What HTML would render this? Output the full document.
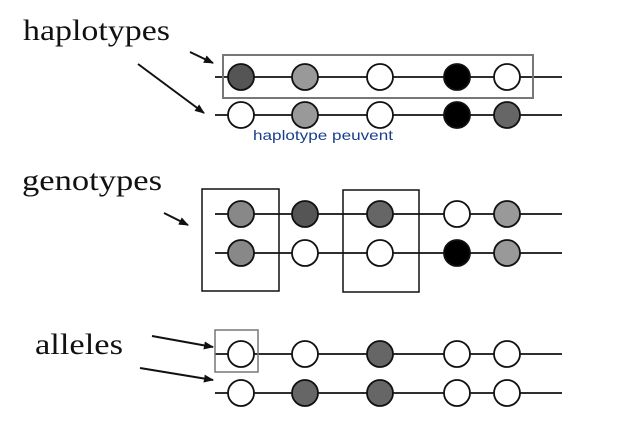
<!DOCTYPE html>
<html><head><meta charset="utf-8"><style>
html,body{margin:0;padding:0;background:#fff;}
svg{display:block}
</style></head><body>
<svg width="624" height="430" viewBox="0 0 624 430" xmlns="http://www.w3.org/2000/svg">
<defs>
<marker id="ah" markerWidth="10" markerHeight="8" refX="9" refY="4" orient="auto" markerUnits="userSpaceOnUse">
<path d="M0,0 L10,4 L0,8 z" fill="#111"/>
</marker>
</defs>
<g font-family="Liberation Serif, serif" fill="#111" font-size="30">
<text x="23" y="40" textLength="147" lengthAdjust="spacingAndGlyphs">haplotypes</text>
<text x="22" y="190" textLength="140" lengthAdjust="spacingAndGlyphs">genotypes</text>
<text x="35" y="354" textLength="88" lengthAdjust="spacingAndGlyphs">alleles</text>
</g>
<g stroke="#111" stroke-width="2" marker-end="url(#ah)">
<line x1="190" y1="52" x2="213" y2="63"/>
<line x1="138" y1="64" x2="204" y2="113"/>
<line x1="164" y1="213" x2="188" y2="225"/>
<line x1="152" y1="336" x2="213" y2="347"/>
<line x1="140" y1="368" x2="213" y2="380"/>
</g>
<g stroke="#111" stroke-width="1.8">
<line x1="215" y1="77" x2="562" y2="77"/>
<line x1="215" y1="115" x2="562" y2="115"/>
<line x1="215" y1="214" x2="562" y2="214"/>
<line x1="215" y1="253" x2="562" y2="253"/>
<line x1="215" y1="354" x2="562" y2="354"/>
<line x1="215" y1="393" x2="562" y2="393"/>
</g>
<g fill="none">
<rect x="223" y="55" width="310" height="43" stroke="#777" stroke-width="2"/>
<rect x="202" y="189" width="77" height="102" stroke="#111" stroke-width="1.5"/>
<rect x="343" y="190" width="76" height="102" stroke="#111" stroke-width="1.5"/>
<rect x="215" y="330" width="43" height="42" stroke="#777" stroke-width="1.5"/>
</g>
<g stroke="#111" stroke-width="1.8">
<!-- haplotypes row1 -->
<circle cx="241" cy="77" r="13" fill="#555"/>
<circle cx="305" cy="77" r="13" fill="#999"/>
<circle cx="380" cy="77" r="13" fill="#fff"/>
<circle cx="457" cy="77" r="13" fill="#000"/>
<circle cx="507" cy="77" r="13" fill="#fff"/>
<!-- row2 -->
<circle cx="241" cy="115" r="13" fill="#fff"/>
<circle cx="305" cy="115" r="13" fill="#999"/>
<circle cx="380" cy="115" r="13" fill="#fff"/>
<circle cx="457" cy="115" r="13" fill="#000"/>
<circle cx="507" cy="115" r="13" fill="#666"/>
<!-- genotypes -->
<circle cx="241" cy="214" r="13" fill="#888"/>
<circle cx="305" cy="214" r="13" fill="#555"/>
<circle cx="380" cy="214" r="13" fill="#666"/>
<circle cx="457" cy="214" r="13" fill="#fff"/>
<circle cx="507" cy="214" r="13" fill="#999"/>
<circle cx="241" cy="253" r="13" fill="#888"/>
<circle cx="305" cy="253" r="13" fill="#fff"/>
<circle cx="380" cy="253" r="13" fill="#fff"/>
<circle cx="457" cy="253" r="13" fill="#000"/>
<circle cx="507" cy="253" r="13" fill="#999"/>
<!-- alleles -->
<circle cx="241" cy="354" r="13" fill="#fff"/>
<circle cx="305" cy="354" r="13" fill="#fff"/>
<circle cx="380" cy="354" r="13" fill="#666"/>
<circle cx="457" cy="354" r="13" fill="#fff"/>
<circle cx="507" cy="354" r="13" fill="#fff"/>
<circle cx="241" cy="393" r="13" fill="#fff"/>
<circle cx="305" cy="393" r="13" fill="#666"/>
<circle cx="380" cy="393" r="13" fill="#666"/>
<circle cx="457" cy="393" r="13" fill="#fff"/>
<circle cx="507" cy="393" r="13" fill="#fff"/>
</g>
<text x="253" y="140" font-family="Liberation Sans, sans-serif" font-size="14" fill="#1a3f8c" textLength="140" lengthAdjust="spacingAndGlyphs">haplotype peuvent</text>
</svg>
</body></html>
